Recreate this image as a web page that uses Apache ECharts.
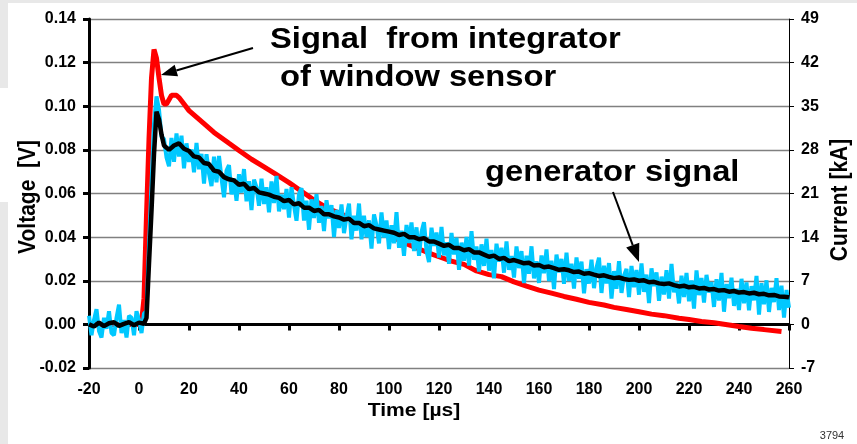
<!DOCTYPE html>
<html>
<head>
<meta charset="utf-8">
<script src="https://cdn.jsdelivr.net/npm/echarts@6/dist/echarts.min.js"></script>
<style>
html,body{margin:0;padding:0;background:#fff;}
#c{width:857px;height:444px;}
</style>
</head>
<body>
<div id="c"></div>
<script>
// ---- data ----
const xTicks = [-20, 260, 20];          // min, max, step of time axis [µs]
const vTicks = [-0.02, 0.14, 0.02];     // left axis (Voltage)
const iTicks = [-7, 49, 7];             // right axis (Current)

// generator signal (black)
const time = [-20,-18,-16,-14,-12,-10,-8,-6,-4,-2,0,2,3,4,5,6,7,8,9,10,
  12,14,16,18,20,22,24,26,28,30,32,34,36,38,40,42,44,46,48,50,52,54,56,58,60,
  62,64,66,68,70,72,74,76,78,80,82,84,86,88,90,92,94,96,98,100,
  102,104,106,108,110,112,114,116,118,120,122,124,126,128,130,132,134,136,138,140,
  142,144,146,148,150,152,154,156,158,160,162,164,166,168,170,172,174,176,178,180,
  182,184,186,188,190,192,194,196,198,200,202,204,206,208,210,212,214,216,218,220,
  222,224,226,228,230,232,234,236,238,240,242,244,246,248,250,252,254,256,258,260];

const generator = [0.0000,-0.0010,0.0008,-0.0008,0.0005,0.0010,-0.0007,0.0002,0.0010,-0.0004,0.0008,0.0003,
  0.0030,0.0280,0.0520,0.0780,0.0975,0.0940,0.0870,0.0820,
  0.0800,0.0820,0.0830,0.0805,0.0795,0.0770,0.0765,0.0740,0.0735,0.0705,0.0700,0.0675,0.0665,0.0660,0.0640,0.0645,0.0620,0.0625,0.0605,0.0600,
  0.0595,0.0585,0.0580,0.0565,0.0570,0.0550,0.0555,0.0535,0.0535,0.0520,0.0525,0.0505,0.0505,0.0495,0.0490,0.0480,0.0485,0.0465,0.0465,0.0450,
  0.0455,0.0440,0.0435,0.0430,0.0425,0.0420,0.0410,0.0415,0.0400,0.0400,0.0390,0.0395,0.0380,0.0380,0.0370,0.0360,0.0365,0.0350,0.0350,0.0340,
  0.0345,0.0330,0.0330,0.0320,0.0310,0.0315,0.0300,0.0305,0.0290,0.0295,0.0288,0.0280,0.0282,0.0270,0.0272,0.0262,0.0265,0.0258,0.0250,0.0253,
  0.0248,0.0240,0.0242,0.0232,0.0235,0.0228,0.0222,0.0225,0.0218,0.0212,0.0215,0.0208,0.0204,0.0206,0.0200,0.0202,0.0193,0.0195,0.0188,0.0185,
  0.0188,0.0180,0.0174,0.0177,0.0170,0.0172,0.0165,0.0167,0.0160,0.0162,0.0155,0.0157,0.0150,0.0153,0.0146,0.0148,0.0142,0.0145,0.0138,0.0140,
  0.0133,0.0135,0.0128,0.0127,0.0124];

// raw (unfiltered) signal, cyan — sampled every 1 µs from -20 µs
const rawStart = -20, rawStep = 1;
const rawSignal = [
  0.004,-0.005,0.002,0.007,-0.003,-0.006,0.003,-0.002,0.006,-0.004,        // -20..-11
  -0.005,0.003,0.009,-0.004,0.002,-0.006,0.004,0.003,-0.005,0.006,         // -10..-1
  0.002,-0.004,0.005,0.006,0.036,0.064,0.092,0.1045,0.0985,0.086,0.085,    // 0..10
  0.0765,0.0725,0.0855,0.0745,0.0875,0.0770,0.0865,0.0715,0.0830,0.0745,   // 11..20
  0.0802,0.0697,0.0832,0.0711,0.0782,0.0645,0.0780,0.0691,0.0634,0.0769,   // 21..30
  0.0651,0.0772,0.0670,0.0583,0.0705,0.0730,0.0596,0.0669,0.0567,0.0688,   // 31..40
  0.0604,0.0712,0.0564,0.0656,0.0524,0.0664,0.0628,0.0544,0.0668,0.0552,   // 41..50
  0.0629,0.0514,0.0655,0.0556,0.0681,0.0518,0.0595,0.0528,0.0621,0.0490,   // 51..60
  0.0629,0.0544,0.0475,0.0598,0.0625,0.0476,0.0567,0.0434,0.0573,0.0488,   // 61..70
  0.0597,0.0466,0.0543,0.0428,0.0569,0.0486,0.0547,0.0400,0.0525,0.0442,   // 71..80
  0.0550,0.0418,0.0494,0.0554,0.0390,0.0498,0.0430,0.0554,0.0390,0.0498,   // 81..90
  0.0400,0.0477,0.0347,0.0504,0.0454,0.0371,0.0513,0.0398,0.0476,0.0345,   // 91..100
  0.0455,0.0372,0.0514,0.0351,0.0429,0.0314,0.0456,0.0373,0.0467,0.0336,   // 101..110
  0.0445,0.0314,0.0423,0.0468,0.0337,0.0286,0.0443,0.0360,0.0421,0.0306,   // 111..120
  0.0447,0.0316,0.0377,0.0278,0.0419,0.0320,0.0397,0.0250,0.0375,0.0292,   // 121..130
  0.0401,0.0270,0.0427,0.0296,0.0357,0.0242,0.0367,0.0268,0.0393,0.0246,   // 131..140
  0.0341,0.0211,0.0370,0.0288,0.0351,0.0237,0.0380,0.0250,0.0313,0.0215,   // 141..150
  0.0357,0.0258,0.0336,0.0189,0.0315,0.0232,0.0358,0.0211,0.0289,0.0190,   // 151..160
  0.0316,0.0234,0.0344,0.0198,0.0292,0.0162,0.0320,0.0238,0.0300,0.0186,   // 161..170
  0.0329,0.0199,0.0278,0.0164,0.0307,0.0209,0.0288,0.0142,0.0253,0.0187,   // 171..180
  0.0297,0.0166,0.0260,0.0306,0.0144,0.0269,0.0187,0.0281,0.0118,0.0244,   // 181..190
  0.0163,0.0290,0.0144,0.0223,0.0254,0.0125,0.0268,0.0170,0.0249,0.0136,   // 191..200
  0.0279,0.0149,0.0228,0.0098,0.0257,0.0175,0.0238,0.0108,0.0219,0.0137,   // 201..210
  0.0248,0.0118,0.0277,0.0147,0.0194,0.0096,0.0223,0.0125,0.0236,0.0106,   // 211..220
  0.0201,0.0072,0.0247,0.0134,0.0213,0.0100,0.0227,0.0146,0.0193,0.0080,   // 221..230
  0.0207,0.0109,0.0236,0.0058,0.0185,0.0120,0.0214,0.0085,0.0163,0.0066,   // 231..240
  0.0209,0.0097,0.0192,0.0064,0.0175,0.0110,0.0222,0.0045,0.0189,0.0092,   // 241..250
  0.0202,0.0057,0.0167,0.0102,0.0212,0.0066,0.0177,0.0031,0.0158,0.0076    // 251..260
];

// signal from integrator of window sensor (red)
const timeWindow = [-20,0,1,2,3,4,5,6,7,8,9,10,11,12,13,14,15,16,18,20,23,26,30,36,40,45,50,55,60,65,70,75,80,85,90,96,100,
  105,110,116,120,125,130,135,140,145,150,155,160,165,170,175,180,186,190,195,200,205,210,216,220,225,230,236,240,245,250,257];
const windowSensor = [0,0,0.001,0.012,0.050,0.085,0.113,0.126,0.122,0.113,0.105,0.101,0.101,0.103,0.105,0.105,0.105,0.104,0.101,0.098,0.095,0.092,0.088,0.083,0.0797,0.0757,0.0722,0.0686,0.065,0.061,0.057,0.0535,0.051,0.0485,0.046,0.0434,0.041,
  0.038,0.0355,0.0327,0.031,0.029,0.0275,0.0245,0.0228,0.0219,0.0195,0.0175,0.0157,0.0143,0.0128,0.0115,0.0101,0.0089,0.0078,0.0068,0.0058,0.0047,0.0040,0.0028,0.0022,0.0013,0.0007,-0.0003,-0.0010,-0.0018,-0.0024,-0.0033];

const pairs = (xs, ys) => xs.map((x, i) => [x, ys[i]]);
const rawPairs = rawSignal.map((v, i) => [rawStart + i * rawStep, v]);
const FONT = '"Liberation Sans", Arial, sans-serif';

const chart = echarts.init(document.getElementById('c'), null, {renderer: 'canvas'});
const gridColors = ['#808080','#000000','#808080','#808080','#808080','#808080','#808080','#808080','#808080'];

function arrow(tail, tip, headLen, halfW) {
  const dx = tip[0]-tail[0], dy = tip[1]-tail[1];
  const L = Math.hypot(dx, dy), ux = dx/L, uy = dy/L;
  const bx = tip[0]-ux*headLen, by = tip[1]-uy*headLen;
  const nx = -uy*halfW, ny = ux*halfW;
  return [
    {type:'line', shape:{x1:tail[0], y1:tail[1], x2:bx, y2:by}, style:{stroke:'#000', lineWidth:2}, z:100},
    {type:'polygon', shape:{points:[tip,[bx+nx,by+ny],[bx-nx,by-ny]]}, style:{fill:'#000'}, z:100}
  ];
}

const option = {
  animation: false,
  backgroundColor: '#fff',
  grid: {left: 89, right: 68, top: 19, bottom: 76, containLabel: false},
  xAxis: {
    type: 'value', min: xTicks[0], max: xTicks[1], interval: xTicks[2],
    axisLine: {show: true, lineStyle: {color: '#000', width: 3}},
    axisTick: {show: true, length: 6, lineStyle: {color: '#000', width: 3}},
    axisLabel: {color: '#000', fontFamily: FONT, fontWeight: 'bold', fontSize: 16, margin: 14},
    splitLine: {show: false}
  },
  yAxis: [{
    type: 'value', position: 'left', min: vTicks[0], max: vTicks[1], interval: vTicks[2],
    axisLine: {show: true, onZero: false, lineStyle: {color: '#000', width: 3}},
    axisTick: {show: true, length: 6, lineStyle: {color: '#000', width: 3}},
    axisLabel: {color: '#000', fontFamily: FONT, fontWeight: 'bold', fontSize: 16, margin: 13,
      formatter: v => (Math.abs(v) < 1e-9 ? 0 : v).toFixed(2)},
    splitLine: {show: true, lineStyle: {color: gridColors, width: 1.3}}
  }, {
    type: 'value', position: 'right', min: iTicks[0], max: iTicks[1], interval: iTicks[2],
    axisLine: {show: true, onZero: false, lineStyle: {color: '#000', width: 1}},
    axisTick: {show: true, length: 5, lineStyle: {color: '#000', width: 1}},
    axisLabel: {color: '#000', fontFamily: FONT, fontWeight: 'bold', fontSize: 16, margin: 12},
    splitLine: {show: false}
  }],
  series: [{
    name: 'Signal from integrator of window sensor', type: 'line', yAxisIndex: 0,
    data: pairs(timeWindow, windowSensor), showSymbol: false, symbol: 'none',
    lineStyle: {color: '#ff0000', width: 5}, z: 2
  }, {
    name: 'raw', type: 'line', yAxisIndex: 0,
    data: rawPairs, showSymbol: false, symbol: 'none',
    lineStyle: {color: '#00c8ff', width: 4}, z: 3
  }, {
    name: 'generator signal', type: 'line', yAxisIndex: 0,
    data: pairs(time, generator), showSymbol: false, symbol: 'none',
    lineStyle: {color: '#000000', width: 4.5}, z: 4
  }],
  graphic: [
    {type:'rect', shape:{x:0,y:0,width:857,height:3}, style:{fill:'#e8e8e8'}, z:-10, silent:true},
    {type:'rect', shape:{x:0,y:0,width:8,height:88}, style:{fill:'#e8e8e8'}, z:-10, silent:true},
    {type:'rect', shape:{x:0,y:202,width:8,height:242}, style:{fill:'#e8e8e8'}, z:-10, silent:true},
    {type:'text', x:270, y:40, scaleX:1.09, z:100,
      style:{text:'Signal  from integrator', font:'bold 30px ' + FONT, fill:'#000', textVerticalAlign:'middle', verticalAlign:'middle'}},
    {type:'text', x:280, y:78, scaleX:1.09, z:100,
      style:{text:'of window sensor', font:'bold 30px ' + FONT, fill:'#000', textVerticalAlign:'middle', verticalAlign:'middle'}},
    {type:'text', x:485, y:173, scaleX:1.09, z:100,
      style:{text:'generator signal', font:'bold 30px ' + FONT, fill:'#000', textVerticalAlign:'middle', verticalAlign:'middle'}},
    {type:'text', x:414, y:411, scaleX:1.17, z:100,
      style:{text:'Time [µs]', font:'bold 18px ' + FONT, fill:'#000', textAlign:'center', align:'center', textVerticalAlign:'middle', verticalAlign:'middle'}},
    {type:'text', x:28, y:197, rotation:Math.PI/2, scaleY:1.15, z:100,
      style:{text:'Voltage  [V]', font:'bold 21px ' + FONT, fill:'#000', textAlign:'center', align:'center', textVerticalAlign:'middle', verticalAlign:'middle'}},
    {type:'text', x:840, y:200, rotation:Math.PI/2, scaleY:1.15, z:100,
      style:{text:'Current [kA]', font:'bold 21px ' + FONT, fill:'#000', textAlign:'center', align:'center', textVerticalAlign:'middle', verticalAlign:'middle'}},
    {type:'text', x:832, y:436, z:100,
      style:{text:'3794', font:'11px ' + FONT, fill:'#333', textAlign:'center', align:'center', textVerticalAlign:'middle', verticalAlign:'middle'}}
  ].concat(arrow([253,48],[161,75],16,6)).concat(arrow([613,192],[639,262],18,7))
};
chart.setOption(option);
</script>
</body>
</html>
